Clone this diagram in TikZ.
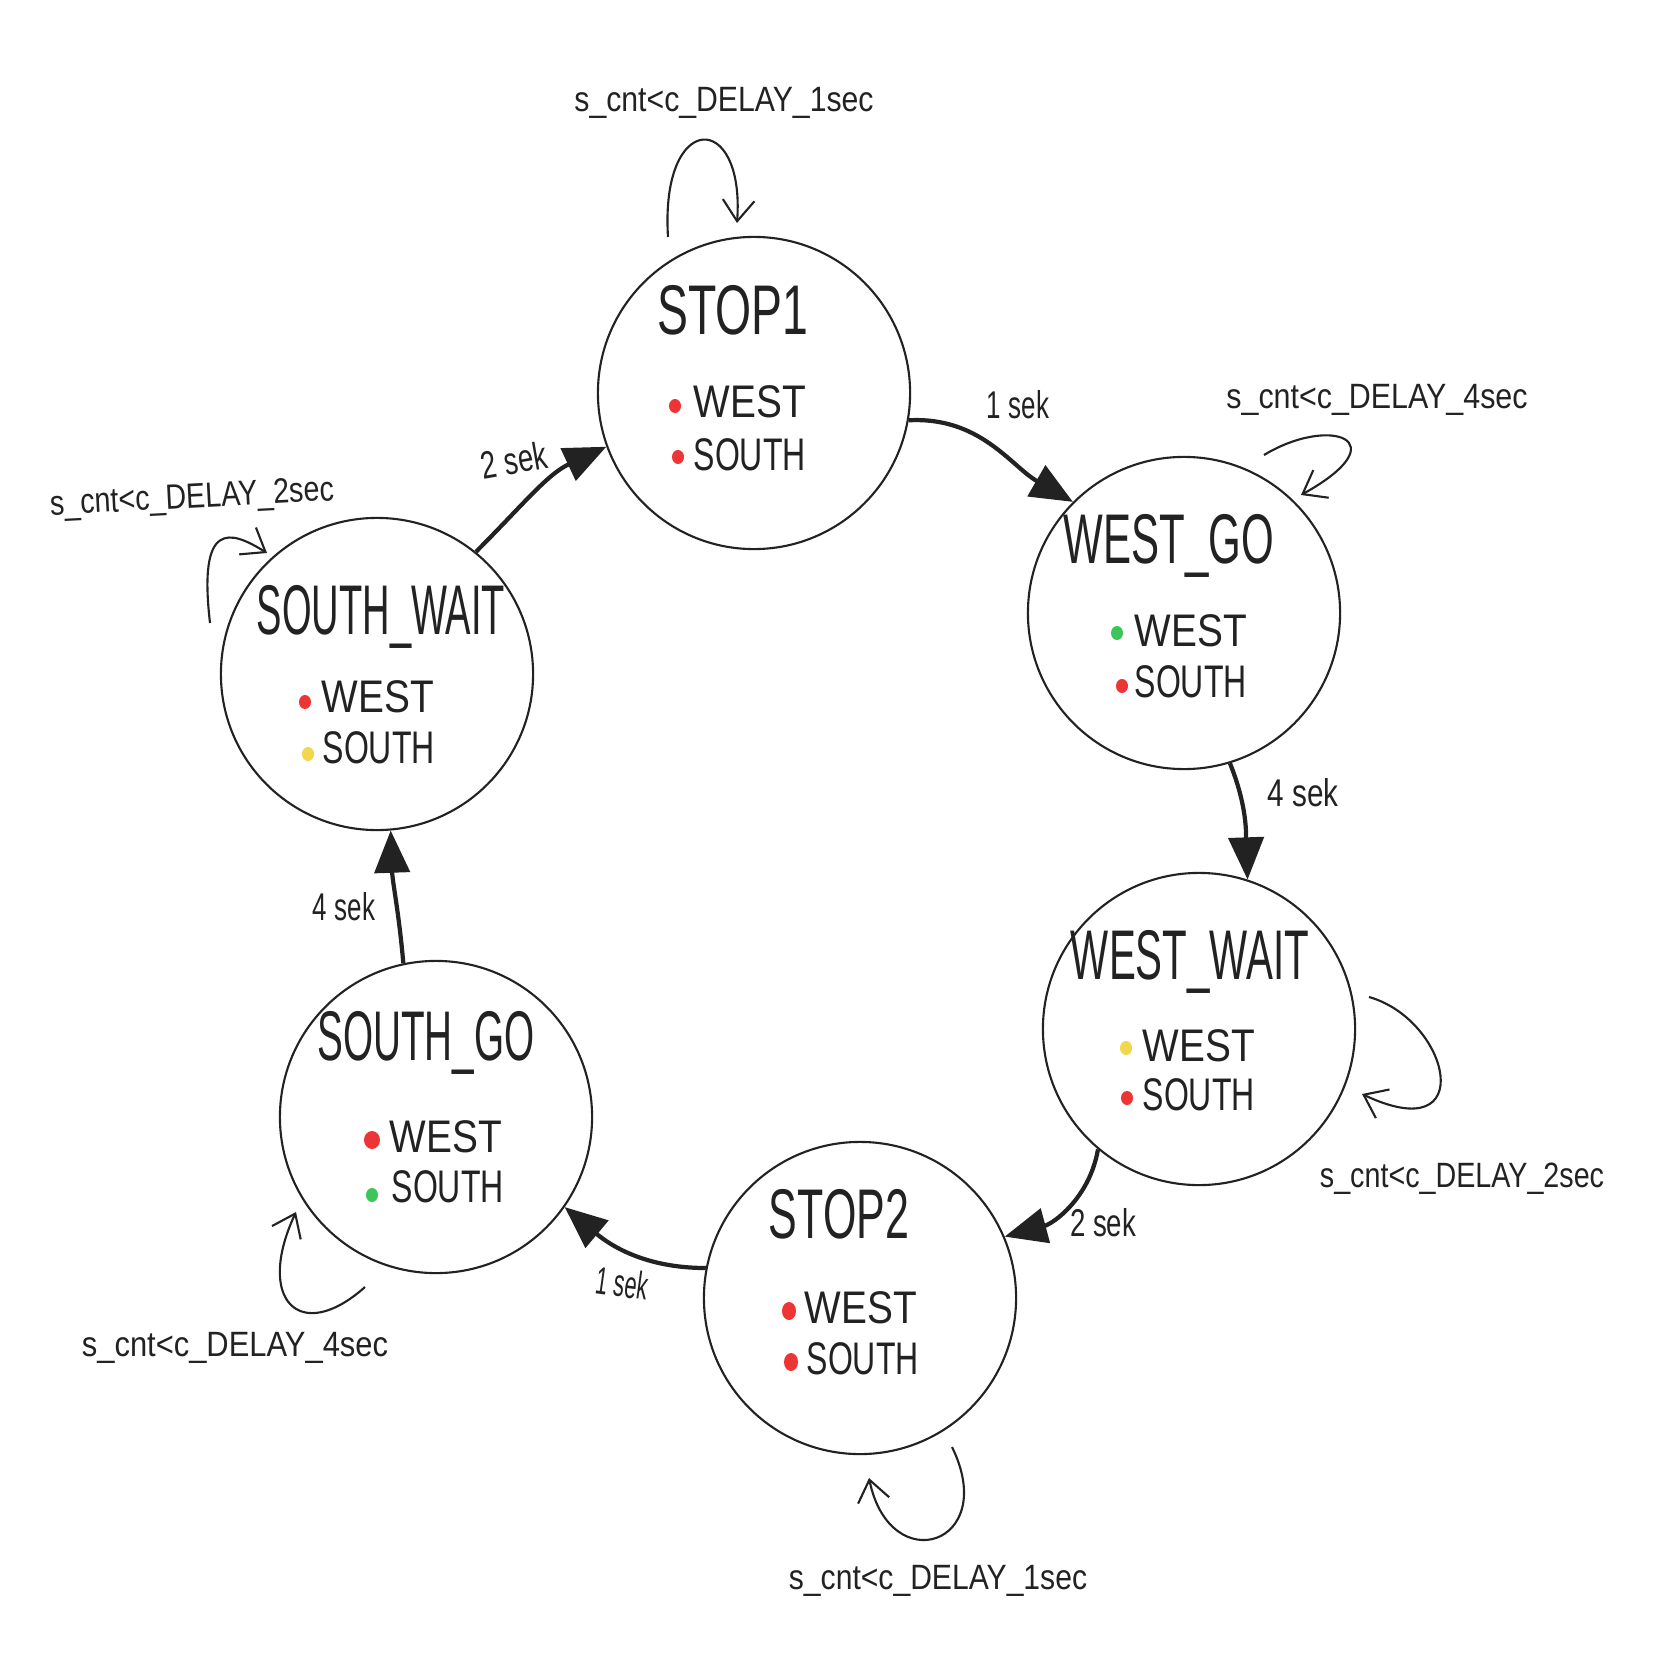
\documentclass[tikz,border=0pt]{standalone}
\usepackage{fontspec}
\setmainfont{Liberation Sans}
\usepackage{graphicx}
\usetikzlibrary{arrows.meta}
\definecolor{ink}{HTML}{222222}
\definecolor{tred}{HTML}{EE3535}
\definecolor{tgreen}{HTML}{3CC65A}
\definecolor{tyellow}{HTML}{F2D64B}
\newcommand{\fitw}[2]{\resizebox{#1}{\height}{#2}}
\begin{document}
\begin{tikzpicture}[x=0.01cm,y=0.01cm,
 state/.style={circle,draw=ink,line width=0.6pt,minimum size=3.12cm,inner sep=0pt},
 title/.style={text=ink,font=\fontsize{20}{24}\selectfont,inner sep=0pt,text depth=0pt},
 item/.style={text=ink,font=\fontsize{13}{15}\selectfont,inner sep=0pt,anchor=west},
 cond/.style={text=ink,font=\fontsize{10}{12}\selectfont,inner sep=0pt},
 elab/.style={text=ink,font=\fontsize{11}{13}\selectfont,inner sep=0pt},
 trans/.style={draw=ink,line width=1.2pt,-{Triangle[length=12pt,width=10pt]}},
 selfloop/.style={draw=ink,line width=0.6pt,-{Straight Barb[length=6pt,width=9pt]}},
]
\fill[white] (0,0) rectangle (1658,-1655);
\useasboundingbox (0,0) rectangle (1658,-1655);

% states
\node[state] (s1) at (754,-393) {};
\node[state] (wg) at (1184,-613) {};
\node[state] (ww) at (1199,-1029) {};
\node[state] (s2) at (860,-1298) {};
\node[state] (sg) at (436,-1117) {};
\node[state] (sw) at (377,-674) {};

% titles
\node[title] (s1t) at (733,-310) {\fitw{1.51cm}{STOP1}};
\node[title] (wgt) at (1169,-539) {\fitw{2.10cm}{WEST\_GO}};
\node[title] (wwt) at (1190,-955) {\fitw{2.38cm}{WEST\_WAIT}};
\node[title] (s2t) at (839,-1214) {\fitw{1.40cm}{STOP2}};
\node[title] (sgt) at (426,-1036) {\fitw{2.17cm}{SOUTH\_GO}};
\node[title] (swt) at (381,-610) {\fitw{2.48cm}{SOUTH\_WAIT}};

% light items
\node[item] (s1w) at (693,-402) {\fitw{1.12cm}{WEST}};
\node[item] (s1s) at (693,-455) {\fitw{1.12cm}{SOUTH}};
\fill[tred] (675,-406) ellipse (6 and 7);
\fill[tred] (678,-457) ellipse (6 and 7);

\node[item] (wgw) at (1134,-631) {\fitw{1.12cm}{WEST}};
\node[item] (wgs) at (1134,-682) {\fitw{1.12cm}{SOUTH}};
\fill[tgreen] (1117,-633) ellipse (6 and 7);
\fill[tred] (1122,-686) ellipse (6 and 7);

\node[item] (www) at (1142,-1046) {\fitw{1.12cm}{WEST}};
\node[item] (wws) at (1142,-1095) {\fitw{1.12cm}{SOUTH}};
\fill[tyellow] (1126,-1048) ellipse (6 and 7);
\fill[tred] (1127,-1098) ellipse (6 and 7);

\node[item] (s2w) at (804,-1308) {\fitw{1.12cm}{WEST}};
\node[item] (s2s) at (806,-1359) {\fitw{1.12cm}{SOUTH}};
\fill[tred] (789,-1311) ellipse (7 and 9);
\fill[tred] (791,-1362) ellipse (7 and 9);

\node[item] (sgw) at (389,-1137) {\fitw{1.12cm}{WEST}};
\node[item] (sgs) at (391,-1187) {\fitw{1.12cm}{SOUTH}};
\fill[tred] (372,-1140) ellipse (8 and 9);
\fill[tgreen] (372,-1195) ellipse (6 and 7);

\node[item] (sww) at (321,-697) {\fitw{1.12cm}{WEST}};
\node[item] (sws) at (322,-748) {\fitw{1.12cm}{SOUTH}};
\fill[tred] (305,-702) ellipse (6 and 7);
\fill[tyellow] (308,-754) ellipse (6 and 7);

% transitions
\draw[trans] (s1.-10) to[out=3,in=150] (wg.135);
\draw[trans] (wg.-73) to[out=-68,in=92] (ww.72);
\draw[trans] (ww.-130) to[out=-100,in=15] (s2.23);
\draw[trans] (s2.169) to[out=180,in=-40] (sg.-35);
\draw[trans] (sg.102) to[out=95,in=-88] (sw.-85);
\draw[trans] (sw.51) to[out=45,in=205] (s1.200);

% transition labels
\node[elab] (e1) at (1018,-405) {\fitw{0.62cm}{1 sek}};
\node[elab] (e2) at (1303,-793) {\fitw{0.71cm}{4 sek}};
\node[elab] (e3) at (1103,-1223) {\fitw{0.66cm}{2 sek}};
\node[elab,rotate=-8] (e4) at (622,-1283) {\fitw{0.52cm}{1 sek}};
\node[elab] (e5) at (344,-907) {\fitw{0.62cm}{4 sek}};
\node[elab,rotate=10] (e6) at (514,-460) {\fitw{0.66cm}{2 sek}};

% self loops
\coordinate (l1a) at (668,-237);  \coordinate (l1b) at (737,-223);
\coordinate (l2a) at (1264,-455); \coordinate (l2b) at (1301,-495);
\coordinate (l3a) at (1369,-997); \coordinate (l3b) at (1362,-1094);
\coordinate (l4a) at (952,-1447); \coordinate (l4b) at (869,-1478);
\coordinate (l5a) at (365,-1287); \coordinate (l5b) at (296,-1212);
\coordinate (l6a) at (210,-623);  \coordinate (l6b) at (267,-553);
\draw[selfloop] (l1a) .. controls (660,-110) and (745,-110) .. (l1b);
\draw[selfloop] (l2a) .. controls (1330,-415) and (1400,-440) .. (l2b);
\draw[selfloop] (l3a) .. controls (1450,-1020) and (1480,-1150) .. (l3b);
\draw[selfloop] (l4a) .. controls (1000,-1545) and (890,-1580) .. (l4b);
\draw[selfloop] (l5a) .. controls (300,-1345) and (255,-1300) .. (l5b);
\draw[selfloop] (l6a) .. controls (198,-520) and (230,-530) .. (l6b);

% loop conditions
\node[cond] (c1) at (724,-103) {\fitw{2.99cm}{s\_cnt<c\_DELAY\_1sec}};
\node[cond] (c2) at (1377,-400) {\fitw{3.01cm}{s\_cnt<c\_DELAY\_4sec}};
\node[cond] (c3) at (1462,-1179) {\fitw{2.84cm}{s\_cnt<c\_DELAY\_2sec}};
\node[cond] (c4) at (938,-1581) {\fitw{2.98cm}{s\_cnt<c\_DELAY\_1sec}};
\node[cond] (c5) at (235,-1348) {\fitw{3.06cm}{s\_cnt<c\_DELAY\_4sec}};
\node[cond,rotate=3] (c6) at (192,-499) {\fitw{2.84cm}{s\_cnt<c\_DELAY\_2sec}};
\end{tikzpicture}
\end{document}
